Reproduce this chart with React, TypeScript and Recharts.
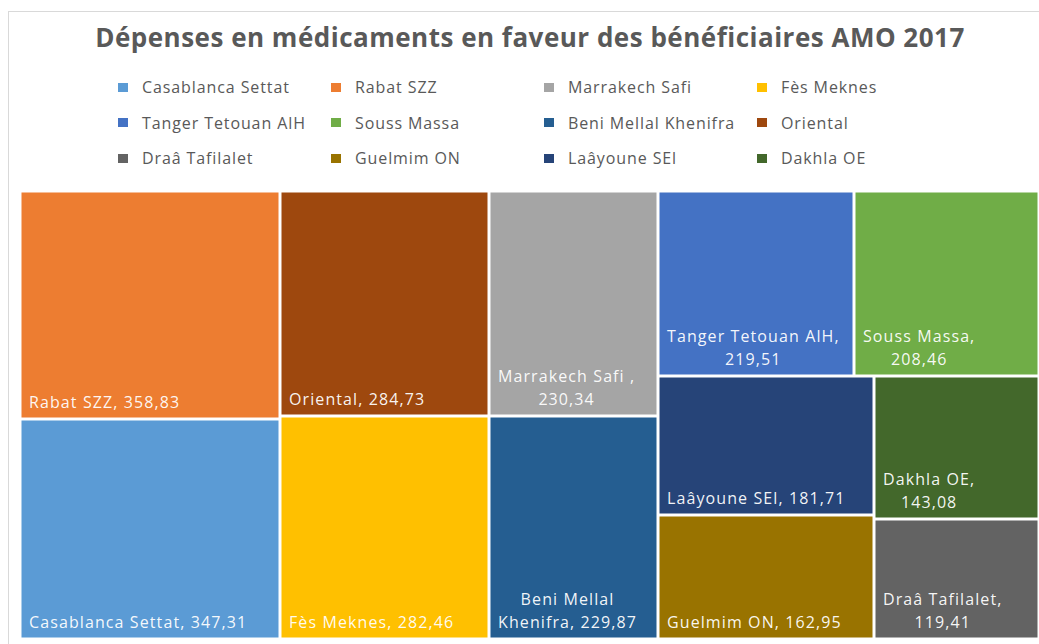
import React from "react";
import { Treemap } from "recharts";

// Régions (ordre de la légende), dépenses et couleurs
const regions = [
  "Casablanca Settat",
  "Rabat SZZ",
  "Marrakech Safi ",
  "Fès Meknes",
  "Tanger Tetouan AlH",
  "Souss Massa",
  "Beni Mellal Khenifra",
  "Oriental",
  "Draâ Tafilalet",
  "Guelmim ON",
  "Laâyoune SEl",
  "Dakhla OE",
];
const depenses = [347.31, 358.83, 230.34, 282.46, 219.51, 208.46, 229.87, 284.73, 119.41, 162.95, 181.71, 143.08];
const colors = [
  "#5B9BD5", "#ED7D31", "#A5A5A5", "#FFC000",
  "#4472C4", "#70AD47", "#255E91", "#9E480E",
  "#636363", "#997300", "#264478", "#43682B",
];

const FONT = "'Open Sans', sans-serif";
const LABEL_SIZE = 16;
const LABEL_SPACING = 1.1;

// Excel trie les tuiles par valeur décroissante
const treeData = regions
  .map((name, i) => ({ name, size: depenses[i], color: colors[i] }))
  .sort((a, b) => b.size - a.size);

let ctx: CanvasRenderingContext2D | null = null;
const measure = (s: string) => {
  if (!ctx) {
    ctx = document.createElement("canvas").getContext("2d");
  }
  if (!ctx) return s.length * 8;
  ctx.font = `${LABEL_SIZE}px ${FONT}`;
  return ctx.measureText(s).width + LABEL_SPACING * s.length;
};

const wrap = (text: string, maxW: number) => {
  const words = text.split(" ");
  const lines: string[] = [];
  let cur = "";
  words.forEach((w) => {
    const next = cur ? cur + " " + w : w;
    if (cur && measure(next) > maxW) {
      lines.push(cur);
      cur = w;
    } else {
      cur = next;
    }
  });
  if (cur) lines.push(cur);
  return lines;
};

const fmt = (v: number) => v.toFixed(2).replace(".", ",");

const TreeCell = (props: any) => {
  const { x, y, width, height, depth, name, size, color } = props;
  if (depth !== 1) return null;
  const label = `${name}, ${fmt(size)}`;
  const lines = wrap(label, width - 18);
  const blockW = Math.max(...lines.map(measure));
  const lineH = 23;
  const baseY = y + height - 11;
  const cx = x + 9 + blockW / 2;
  return (
    <g>
      <rect x={x + 1.5} y={y + 1.5} width={width - 3} height={height - 3} fill={color} />
      {lines.map((l, i) => (
        <text
          key={i}
          x={lines.length > 1 ? cx : x + 9}
          y={baseY - (lines.length - 1 - i) * lineH}
          textAnchor={lines.length > 1 ? "middle" : "start"}
          fill="#ffffff"
          fillOpacity={0.95}
          fontFamily={FONT}
          fontSize={LABEL_SIZE}
          letterSpacing={LABEL_SPACING}
        >
          {l}
        </text>
      ))}
    </g>
  );
};

export default function App() {
  return (
    <div style={{ position: "relative", width: 1039, height: 644, fontFamily: FONT, overflow: "hidden" }}>
      <style>{`html,body{margin:0;padding:0;overflow:hidden;background:#fff}`}</style>
      <div
        style={{
          position: "absolute",
          left: 8,
          top: 11,
          width: 1031,
          height: 633,
          borderLeft: "1px solid #d9d9d9",
          borderTop: "1px solid #d9d9d9",
          boxSizing: "border-box",
        }}
      />
      <div
        style={{
          position: "absolute",
          left: 8,
          top: 20,
          width: 1044,
          textAlign: "center",
          fontSize: 26,
          lineHeight: "34px",
          fontWeight: 700,
          letterSpacing: 0.5,
          color: "#595959",
          whiteSpace: "nowrap",
        }}
      >
        Dépenses en médicaments en faveur des bénéficiaires AMO 2017
      </div>
      {regions.map((r, i) => (
        <div
          key={r}
          style={{
            position: "absolute",
            left: 118 + (i % 4) * 213,
            top: 77 + Math.floor(i / 4) * 35.5,
            height: 20,
            display: "flex",
            alignItems: "center",
            fontSize: LABEL_SIZE,
            lineHeight: "20px",
            letterSpacing: 0.9,
            color: "#595959",
            whiteSpace: "nowrap",
          }}
        >
          <span style={{ width: 10, height: 9, background: colors[i], marginRight: 14, display: "inline-block" }} />
          {r.trim()}
        </div>
      ))}
      <div style={{ position: "absolute", left: 20, top: 191 }}>
        <Treemap
          width={1019}
          height={448}
          data={treeData}
          dataKey="size"
          nameKey="name"
          aspectRatio={1}
          isAnimationActive={false}
          content={<TreeCell />}
        />
      </div>
    </div>
  );
}
